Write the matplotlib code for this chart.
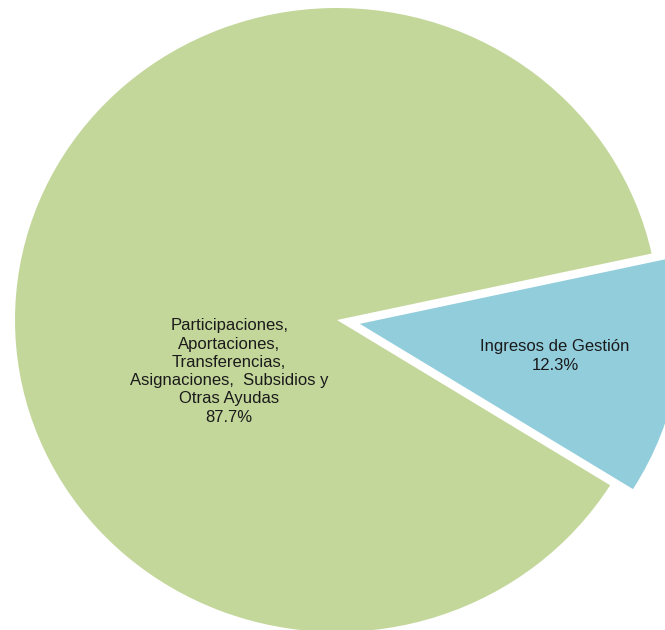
import matplotlib
matplotlib.use("Agg")
import matplotlib.pyplot as plt

categories = ["Participaciones,\nAportaciones,\nTransferencias,\nAsignaciones,  Subsidios y\nOtras Ayudas",
              "Ingresos de Gestión"]
values = [87.7, 12.3]
colors = ["#C4D79B", "#92CDDC"]
explode = [0.0, 0.072]

plt.rcParams['font.family'] = ['Liberation Sans', 'DejaVu Sans']

fig = plt.figure(figsize=(6.65, 6.3), dpi=100)
ax = fig.add_axes([0, 0, 1, 1])

wedges, _ = ax.pie(values, colors=colors, explode=explode, startangle=12.3,
                   counterclock=True, radius=1.0,
                   wedgeprops=dict(linewidth=0))
for w in wedges:
    w.set_clip_on(False)

# slightly elliptical pie as in the reference (x radius 322 px, y radius 312 px)
cx, cy, rx, ry = 337, 320, 322, 312
ax.set_aspect('auto')
ax.set_xlim(-cx / rx, (665 - cx) / rx)
ax.set_ylim((cy - 630) / ry, cy / ry)
ax.axis('off')

label_pos = [(-0.335, -0.165), (0.677, -0.115)]
for cat, v, (x, y) in zip(categories, values, label_pos):
    ax.text(x, y, f"{cat}\n{v:.1f}%", ha='center', va='center',
            fontsize=12, color='#1a1a1a', linespacing=1.27)

fig.savefig("out.png", dpi=100)
